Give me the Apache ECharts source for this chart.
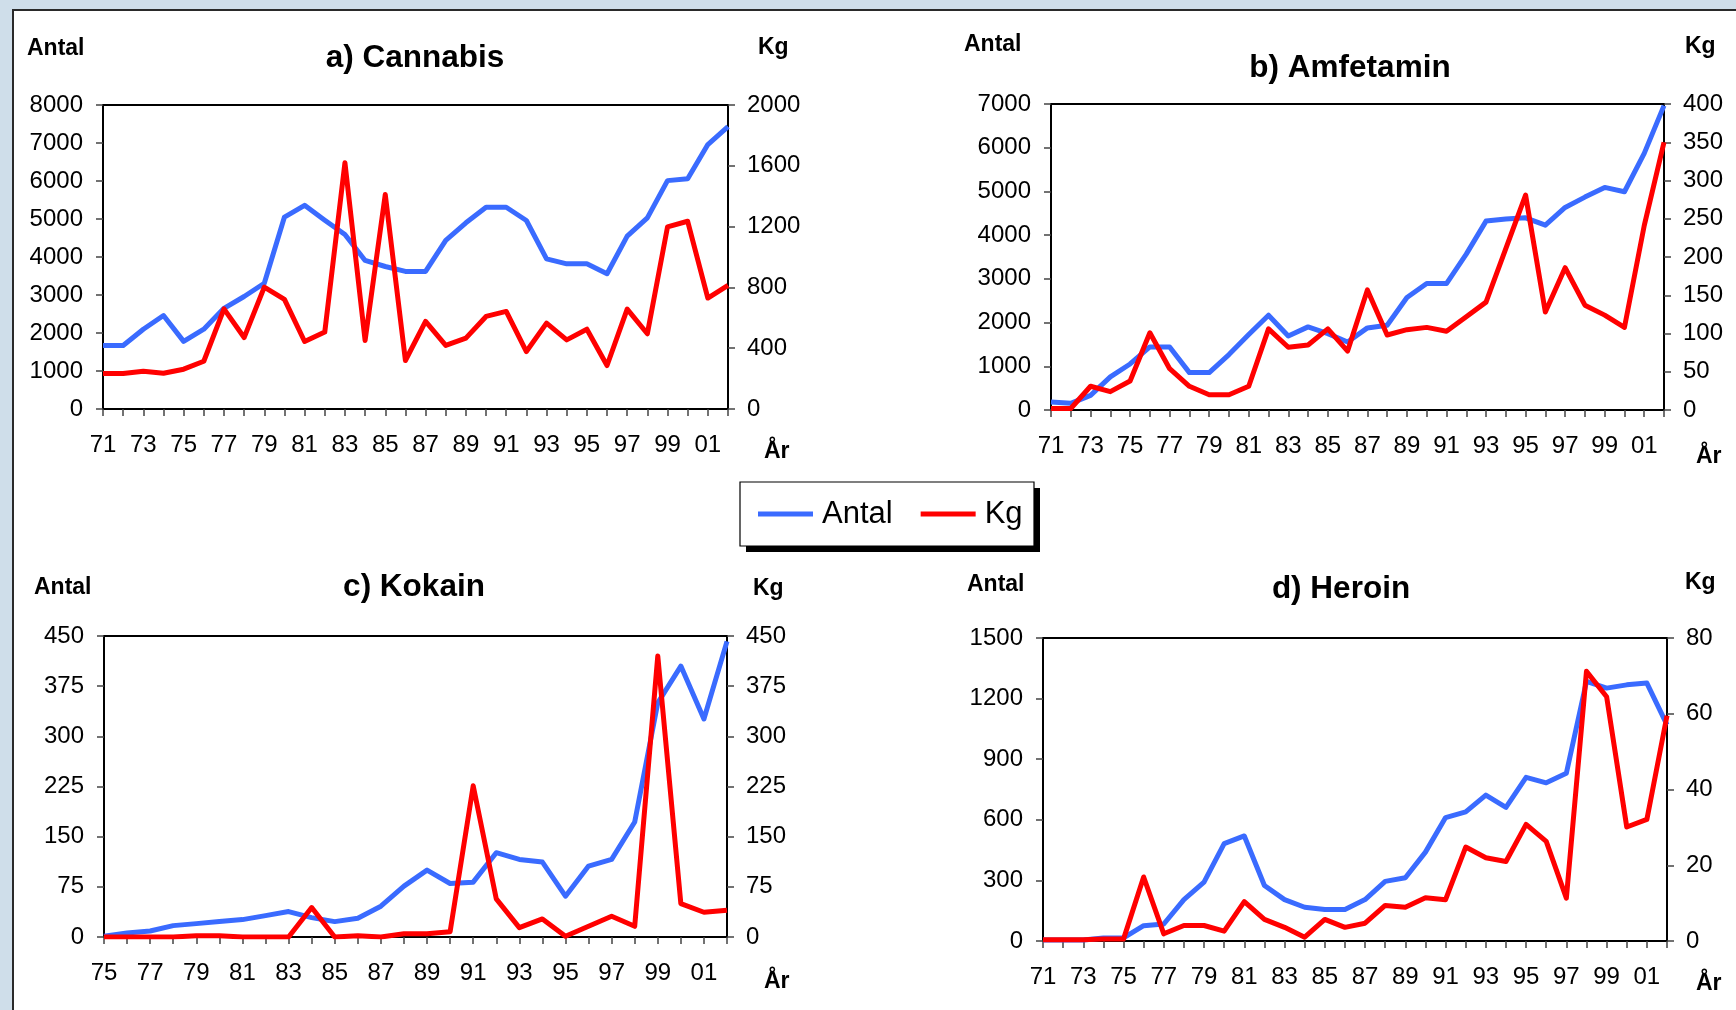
<!DOCTYPE html>
<html>
<head>
<meta charset="utf-8">
<title>Beslag 1971-2002</title>
<script src="https://cdn.jsdelivr.net/npm/echarts@6/dist/echarts.min.js"></script>
<style>
  html, body { margin: 0; padding: 0; width: 1736px; height: 1010px; overflow: hidden; background: #cfdeea; }
  #frame { position: absolute; left: 12px; top: 9px; right: 0; bottom: 0; background: #fff;
           border-top: 2px solid #2a2a2a; border-left: 2px solid #2a2a2a; }
  #chart { position: absolute; left: 0; top: 0; width: 1736px; height: 1010px; }
</style>
</head>
<body>
<div id="frame"></div>
<div id="chart"></div>
<script>
const FONT = '"Liberation Sans", Arial, sans-serif'
const BLUE = '#3a6bff'
const RED = '#ff0000'

// years on the x axes
const years71 = ['71','72','73','74','75','76','77','78','79','80','81','82','83','84','85','86',
  '87','88','89','90','91','92','93','94','95','96','97','98','99','00','01','02']
const years75 = years71.slice(4)

// a) Cannabis
const cannabisAntal = [1670, 1670, 2100, 2460, 1780, 2100, 2650, 2960, 3310, 5050, 5360, 4970, 4590, 3910, 3750, 3620,
  3620, 4440, 4900, 5310, 5310, 4960, 3950, 3820, 3820, 3560, 4550, 5030, 6010, 6060, 6960, 7430]
const cannabisKg = [233, 233, 248, 235, 262, 314, 659, 470, 802, 721, 444, 506, 1620, 451, 1411, 319,
  576, 418, 466, 609, 642, 378, 565, 455, 525, 286, 657, 495, 1198, 1235, 730, 813]

// b) Amfetamin
const amfAntal = [183, 153, 336, 756, 1053, 1443, 1443, 855, 855, 1267, 1725, 2168, 1695, 1901, 1748, 1557,
  1878, 1939, 2573, 2893, 2893, 3565, 4321, 4367, 4397, 4229, 4634, 4870, 5092, 4993, 5871, 6962]
const amfKg = [2, 2, 31, 24, 38, 101, 54, 31, 20, 20, 31, 106, 82, 85, 106, 77,
  157, 98, 105, 108, 103, 122, 141, 211, 281, 128, 186, 137, 124, 108, 241, 350]

// c) Kokain (from 1975)
const kokAntal = [1, 6, 9, 17, 20, 23, 26, 32, 38, 29, 23, 28, 46, 76,
  100, 80, 82, 126, 116, 112, 61, 106, 116, 172, 350, 405, 326, 442]
const kokKg = [0, 0, 0, 0, 2, 2, 0, 0, 0, 44, 0, 2, 0, 5,
  5, 8, 226, 57, 14, 27, 1, 16, 31, 16, 420, 50, 37, 40]

// d) Heroin
const herAntal = [5, 5, 5, 15, 15, 76, 84, 205, 291, 482, 520, 275, 205, 167, 156, 156,
  205, 295, 313, 440, 611, 639, 722, 661, 810, 783, 830, 1285, 1252, 1268, 1277, 1070]
const herKg = [0.3, 0.3, 0.3, 0.5, 0.5, 16.9, 1.9, 4.1, 4.1, 2.6, 10.4, 5.7, 3.6, 1.0, 5.7, 3.6,
  4.7, 9.4, 8.9, 11.4, 10.9, 24.8, 22.0, 21.0, 30.8, 26.3, 11.3, 71.2, 64.5, 30.1, 32.1, 59.5]

const panels = [
  { title: 'a) Cannabis', cats: years71, antal: cannabisAntal, kg: cannabisKg,
    lMax: 8000, lStep: 1000, rMax: 2000, rStep: 400,
    grid: { left: 103, top: 105, width: 625, height: 304 },
    titleAt: [415, 58], antalAt: [27, 49], kgAt: [758, 48], arAt: [764, 452] },
  { title: 'b) Amfetamin', cats: years71, antal: amfAntal, kg: amfKg,
    lMax: 7000, lStep: 1000, rMax: 400, rStep: 50,
    grid: { left: 1051, top: 104, width: 613, height: 306 },
    titleAt: [1350, 68], antalAt: [964, 45], kgAt: [1685, 47], arAt: [1696, 457] },
  { title: 'c) Kokain', cats: years75, antal: kokAntal, kg: kokKg,
    lMax: 450, lStep: 75, rMax: 450, rStep: 75,
    grid: { left: 104, top: 636, width: 623, height: 301 },
    titleAt: [414, 587], antalAt: [34, 588], kgAt: [753, 589], arAt: [764, 982] },
  { title: 'd) Heroin', cats: years71, antal: herAntal, kg: herKg,
    lMax: 1500, lStep: 300, rMax: 80, rStep: 20,
    grid: { left: 1043, top: 638, width: 624, height: 303 },
    titleAt: [1341, 589], antalAt: [967, 585], kgAt: [1685, 583], arAt: [1696, 984] }
]

const axisLine = { show: true, onZero: false, lineStyle: { color: '#000', width: 2 } }
const axisTick = { show: true, inside: false, length: 7, lineStyle: { color: '#444', width: 1.5 } }
const tickLabel = { color: '#000', fontSize: 24, fontFamily: FONT }

function label(text, at, size, bold, align) {
  return {
    type: 'text', x: at[0], y: at[1], silent: true, z: 10,
    style: {
      text, fill: '#000', fontSize: size, fontWeight: bold ? 'bold' : 'normal', fontFamily: FONT,
      textAlign: align, align, textVerticalAlign: 'middle', verticalAlign: 'middle'
    }
  }
}

const grids = [], xAxes = [], yAxes = [], series = [], graphics = []
panels.forEach((p, i) => {
  grids.push(Object.assign({ show: true, borderColor: '#000', borderWidth: 2,
    backgroundColor: 'transparent', containLabel: false, outerBoundsMode: 'none' }, p.grid))
  xAxes.push({
    type: 'category', gridIndex: i, data: p.cats, boundaryGap: false,
    axisLine, axisTick: Object.assign({ interval: 0 }, axisTick),
    axisLabel: Object.assign({ interval: 1, margin: 24 }, tickLabel),
    splitLine: { show: false }
  })
  yAxes.push({
    type: 'value', gridIndex: i, position: 'left', min: 0, max: p.lMax, interval: p.lStep,
    axisLine, axisTick, splitLine: { show: false },
    axisLabel: Object.assign({ margin: 20, formatter: v => String(v) }, tickLabel)
  })
  yAxes.push({
    type: 'value', gridIndex: i, position: 'right', min: 0, max: p.rMax, interval: p.rStep,
    axisLine, axisTick, splitLine: { show: false },
    axisLabel: Object.assign({ margin: 19, formatter: v => String(v) }, tickLabel)
  })
  series.push({
    name: 'Antal', type: 'line', xAxisIndex: i, yAxisIndex: 2 * i, data: p.antal,
    symbol: 'none', color: BLUE, lineStyle: { color: BLUE, width: 5, join: 'round' }, z: 2,
    emphasis: { disabled: true }
  })
  series.push({
    name: 'Kg', type: 'line', xAxisIndex: i, yAxisIndex: 2 * i + 1, data: p.kg,
    symbol: 'none', color: RED, lineStyle: { color: RED, width: 5, join: 'round' }, z: 3,
    emphasis: { disabled: true }
  })
  graphics.push(label(p.title, p.titleAt, 31.5, true, 'center'))
  graphics.push(label('Antal', p.antalAt, 23, true, 'left'))
  graphics.push(label('Kg', p.kgAt, 23, true, 'left'))
  graphics.push(label('År', p.arAt, 23, true, 'left'))
})

// legend box with a hard drop shadow (drawn behind the legend component)
graphics.push({ type: 'rect', z: 0, silent: true, shape: { x: 746, y: 488, width: 294, height: 64 },
  style: { fill: '#000' } })
graphics.push({ type: 'rect', z: 1, silent: true, shape: { x: 740, y: 482, width: 294, height: 64 },
  style: { fill: '#fff', stroke: '#000', lineWidth: 1.2 } })

const chart = echarts.init(document.getElementById('chart'), null, { renderer: 'canvas' })
chart.setOption({
  animation: false,
  backgroundColor: 'transparent',
  textStyle: { fontFamily: FONT },
  grid: grids,
  xAxis: xAxes,
  yAxis: yAxes,
  series,
  legend: {
    left: 740, top: 482, orient: 'horizontal', selectedMode: false, z: 20,
    data: [{ name: 'Antal', icon: 'rect' }, { name: 'Kg', icon: 'rect' }],
    itemWidth: 55, itemHeight: 5, itemGap: 28,
    padding: [14, 14, 14, 18],
    backgroundColor: 'transparent', borderWidth: 0,
    textStyle: { color: '#000', fontSize: 31, fontFamily: FONT, lineHeight: 36, padding: [0, 0, 0, 4] }
  },
  graphic: graphics
})
</script>
</body>
</html>
